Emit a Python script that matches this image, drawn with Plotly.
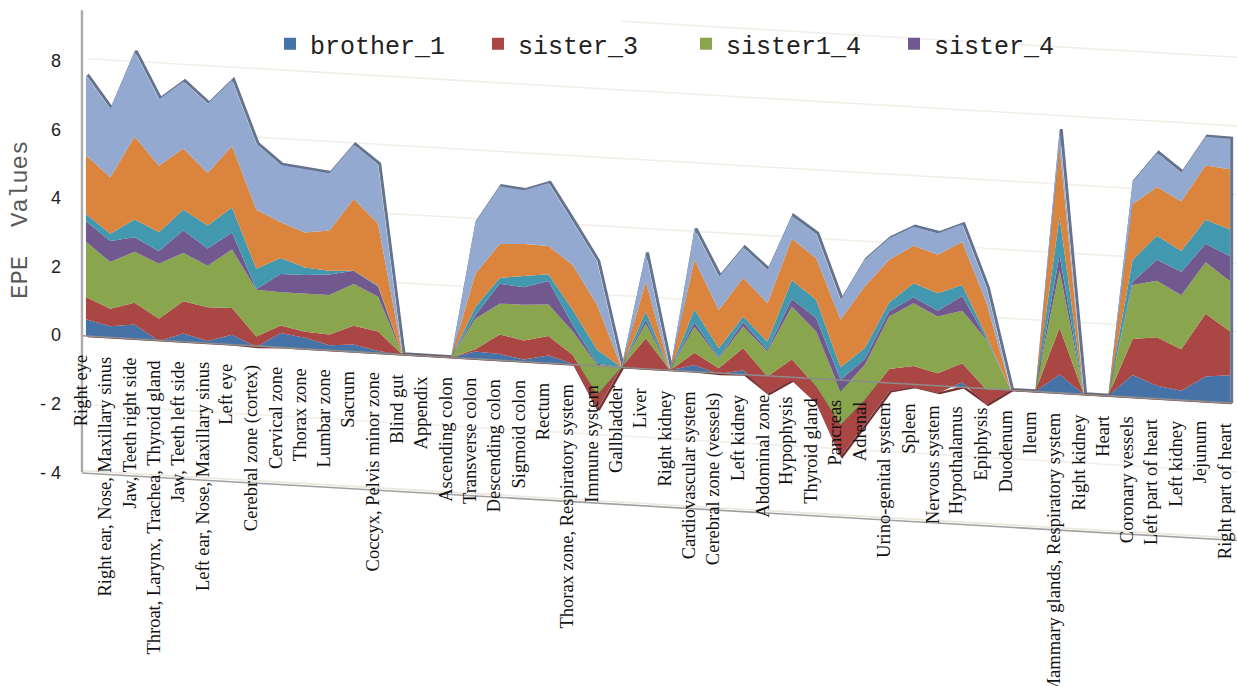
import numpy as np
import plotly.graph_objects as go

categories = ["Right eye", "Right ear, Nose, Maxillary sinus", "Jaw, Teeth right side",
    "Throat, Larynx, Trachea, Thyroid gland", "Jaw, Teeth left side", "Left ear, Nose, Maxillary sinus",
    "Left eye", "Cerebral zone (cortex)", "Cervical zone", "Thorax zone", "Lumbar zone", "Sacrum",
    "Coccyx, Pelvis minor zone", "Blind gut", "Appendix", "Ascending colon", "Transverse colon",
    "Descending colon", "Sigmoid colon", "Rectum", "Thorax zone, Respiratory system", "Immune system",
    "Gallbladder", "Liver", "Right kidney", "Cardiovascular system", "Cerebral zone (vessels)",
    "Left kidney", "Abdominal zone", "Hypophysis", "Thyroid gland", "Pancreas", "Adrenal",
    "Urino-genital system", "Spleen", "Nervous system", "Hypothalamus", "Epiphysis", "Duodenum",
    "Ileum", "Mammary glands, Respiratory system", "Right kidney", "Heart", "Coronary vessels",
    "Left part of heart", "Left kidney", "Jejunum", "Right part of heart"]

brother_1 = [.49,.33,.42,-.02,.24,.06,.29,-.03,.42,.32,.15,.21,.06,0,0,0,.21,.18,.06,.22,.02,-1.28,0,0,0,.19,-.03,.12,-.53,-.09,
             -.71,-2.23,-1.24,-.24,-.08,-.21,.15,-.47,0,0,.54,0,0,.65,.38,.27,.73,.81]
sister_3 = [.65,.51,.63,.65,.94,.99,.78,.31,.22,.18,.31,.55,.57,0,0,0,.07,.57,.56,.57,.26,.44,0,.89,0,.36,.17,.65,.51,.62,
            .49,.93,.71,.65,.62,.58,.55,.44,0,0,1.36,0,0,1.05,1.41,1.21,1.83,1.28]
sister1_4 = [1.61,1.36,1.49,1.60,1.41,1.21,1.70,1.36,.97,1.10,1.15,1.21,1.02,0,0,0,.89,.90,1.04,.92,.68,.87,0,.42,0,.76,.29,.63,.73,1.53,
             1.60,.97,1.02,1.53,1.83,1.65,1.53,1.46,0,0,1.68,0,0,1.57,1.65,1.58,1.50,1.46]
sister_4 = [.60,.61,.42,.37,.66,.50,.50,.02,.53,.55,.60,.39,.29,0,0,0,.10,.58,.51,.68,.19,.03,0,.12,0,.12,.03,.12,.05,.22,
            .39,.34,.17,.15,.17,.17,.43,.02,0,0,.44,0,0,.10,.61,.68,.54,.73]
series_5 = [.21,.21,.52,.55,.60,.67,.73,.59,.47,.22,.11,0,.03,0,0,0,.24,.17,.33,.20,.44,.41,0,.24,0,.39,.26,.17,.24,.55,
            .53,.37,.32,.26,.41,.51,.32,.08,0,0,1.12,0,0,.63,.70,.61,.70,.78]
series_6 = [1.71,1.65,2.41,1.94,1.78,1.53,1.79,1.72,1.04,1.02,1.17,2.09,1.81,0,0,0,.97,.99,.93,.82,1.31,1.31,0,.87,0,1.44,1.12,1.12,1.12,1.21,
            1.21,1.38,1.80,1.24,1.09,1.12,1.26,.97,0,0,2.04,0,0,1.63,1.42,1.45,1.58,1.75]
series_7 = [2.33,1.99,2.48,1.94,1.96,2.02,1.92,1.92,1.67,1.84,1.67,1.58,1.72,0,0,0,1.50,1.68,1.57,1.84,1.26,1.26,0,.83,0,.89,.97,.89,.97,.66,
            .71,.58,.78,.63,.56,.63,.51,.44,0,0,.49,0,0,.65,.99,.83,.84,.89]

series_names = ["brother_1", "sister_3", "sister1_4", "sister_4", "series_5", "series_6", "series_7"]
series_values = [brother_1, sister_3, sister1_4, sister_4, series_5, series_6, series_7]
series_colors = ["#4572a7", "#aa4643", "#89a54e", "#71588f", "#4198af", "#db843d", "#93a9cf"]
legend_names = series_names[:4]
y_ticks = [-4, -2, 0, 2, 4, 6, 8]
y_tick_text = ["- 4", "- 2", "0", "2", "4", "6", "8"]

FLOOR_START = -0.03
FLOOR_DROP = 0.0415
x = np.arange(len(categories), dtype=float)
floor = FLOOR_START - FLOOR_DROP * x
XWALL = -0.164
XMIN, XMAX = -0.984, 47.29
YMIN, YMAX = -10.233, 9.767


def slope_line(v, x0=XWALL, x1=XMAX):
    xs = np.array([x0, x1])
    return xs, v + FLOOR_START - FLOOR_DROP * xs + 0.09


fig = go.Figure()

# sloped gridlines on the back wall
for v, x0 in [(-2, 0.1), (2, 0.1), (4, 0.1), (6, 0.1), (8, 0.1), (10, 22)]:
    gx, gy = slope_line(v, x0)
    if v == -2:
        gy = gy - 0.09
    fig.add_trace(go.Scatter(x=gx, y=gy, mode="lines", showlegend=False, hoverinfo="skip",
                             line=dict(color="#f1efe7", width=1.6)))

cum = floor.copy()
levels = []
for vals in series_values:
    cum = cum + np.array(vals)
    levels.append(cum.copy())

# 3-D side edges, drawn beneath the fills and nudged to the right
side_x = np.append(x + 0.07, 47.07)
side_y = np.append(levels[-1] + 0.02, floor[-1])
fig.add_trace(go.Scatter(x=side_x, y=side_y, mode="lines", showlegend=False, hoverinfo="skip",
                         line=dict(color="#64748f", width=3)))
dip = np.minimum(levels[0], floor)
fig.add_trace(go.Scatter(x=x + 0.07, y=dip, mode="lines", showlegend=False, hoverinfo="skip",
                         line=dict(color="#74302e", width=2.4)))

# stacked areas
fig.add_trace(go.Scatter(x=x, y=floor, mode="lines", showlegend=False, hoverinfo="skip",
                         line=dict(width=0, color="rgba(0,0,0,0)")))
for name, color, level in zip(series_names, series_colors, levels):
    fig.add_trace(go.Scatter(x=x, y=level, mode="lines", name=name, showlegend=False, fill="tonexty",
                             fillcolor=color, line=dict(width=0, color=color)))

# floor edge over the fills, front floor edge and left wall
fx, fy = slope_line(0, XWALL, 47.1)
fig.add_trace(go.Scatter(x=fx, y=fy - 0.09, mode="lines", showlegend=False, hoverinfo="skip",
                         line=dict(color="#8d8d8d", width=1.6)))
fx, fy = slope_line(-4, XWALL, XMAX)
fig.add_trace(go.Scatter(x=fx, y=fy - 0.09, mode="lines", showlegend=False, hoverinfo="skip",
                         line=dict(color="#a0a0a0", width=1.6)))
fig.add_trace(go.Scatter(x=fx, y=fy - 0.02, mode="lines", showlegend=False, hoverinfo="skip",
                         line=dict(color="#e9e7de", width=1.6)))
fig.add_trace(go.Scatter(x=[XWALL, XWALL], y=[-4, 9.47], mode="lines", showlegend=False, hoverinfo="skip",
                         line=dict(color="#ababab", width=2.4)))

# legend keys
for name in legend_names:
    color = series_colors[series_names.index(name)]
    fig.add_trace(go.Scatter(x=[None], y=[None], mode="markers", name=name,
                             marker=dict(symbol="square", size=12, color=color)))

annotations = [dict(x=i - 0.22, y=floor[i] - 0.5, text=c, textangle=-90, showarrow=False,
                    xanchor="center", yanchor="top",
                    font=dict(family="Liberation Serif", size=18.5, color="#111111"))
               for i, c in enumerate(categories)]
annotations.append(dict(xref="paper", x=(20 - 62) / 1175, y=(335 - 220) / 34.3, text="EPE  Values", textangle=-90,
                        showarrow=False, xanchor="center", yanchor="middle",
                        font=dict(family="Liberation Mono", size=24, color="#5a5a5a")))

fig.update_layout(
    width=1237, height=686,
    margin=dict(l=62, r=0, t=0, b=0),
    paper_bgcolor="white", plot_bgcolor="white",
    font=dict(family="Liberation Sans"),
    xaxis=dict(range=[XMIN, XMAX], visible=False),
    yaxis=dict(range=[YMIN, YMAX], tickvals=y_ticks, ticktext=y_tick_text, showgrid=False, zeroline=False,
               showline=False, ticks="",
               tickfont=dict(family="Liberation Sans", size=18, color="#222222")),
    legend=dict(orientation="h", x=(270 - 62) / 1175, xanchor="left", y=1 - 44 / 686, yanchor="middle",
                traceorder="normal",
                entrywidth=163, entrywidthmode="pixels", bgcolor="rgba(0,0,0,0)",
                font=dict(family="Liberation Mono", size=25, color="#222222")),
    annotations=annotations,
)
fig.write_html("out.html", config=dict(displayModeBar=False),
               post_script="document.body.style.margin='0';document.body.style.overflow='hidden';")
